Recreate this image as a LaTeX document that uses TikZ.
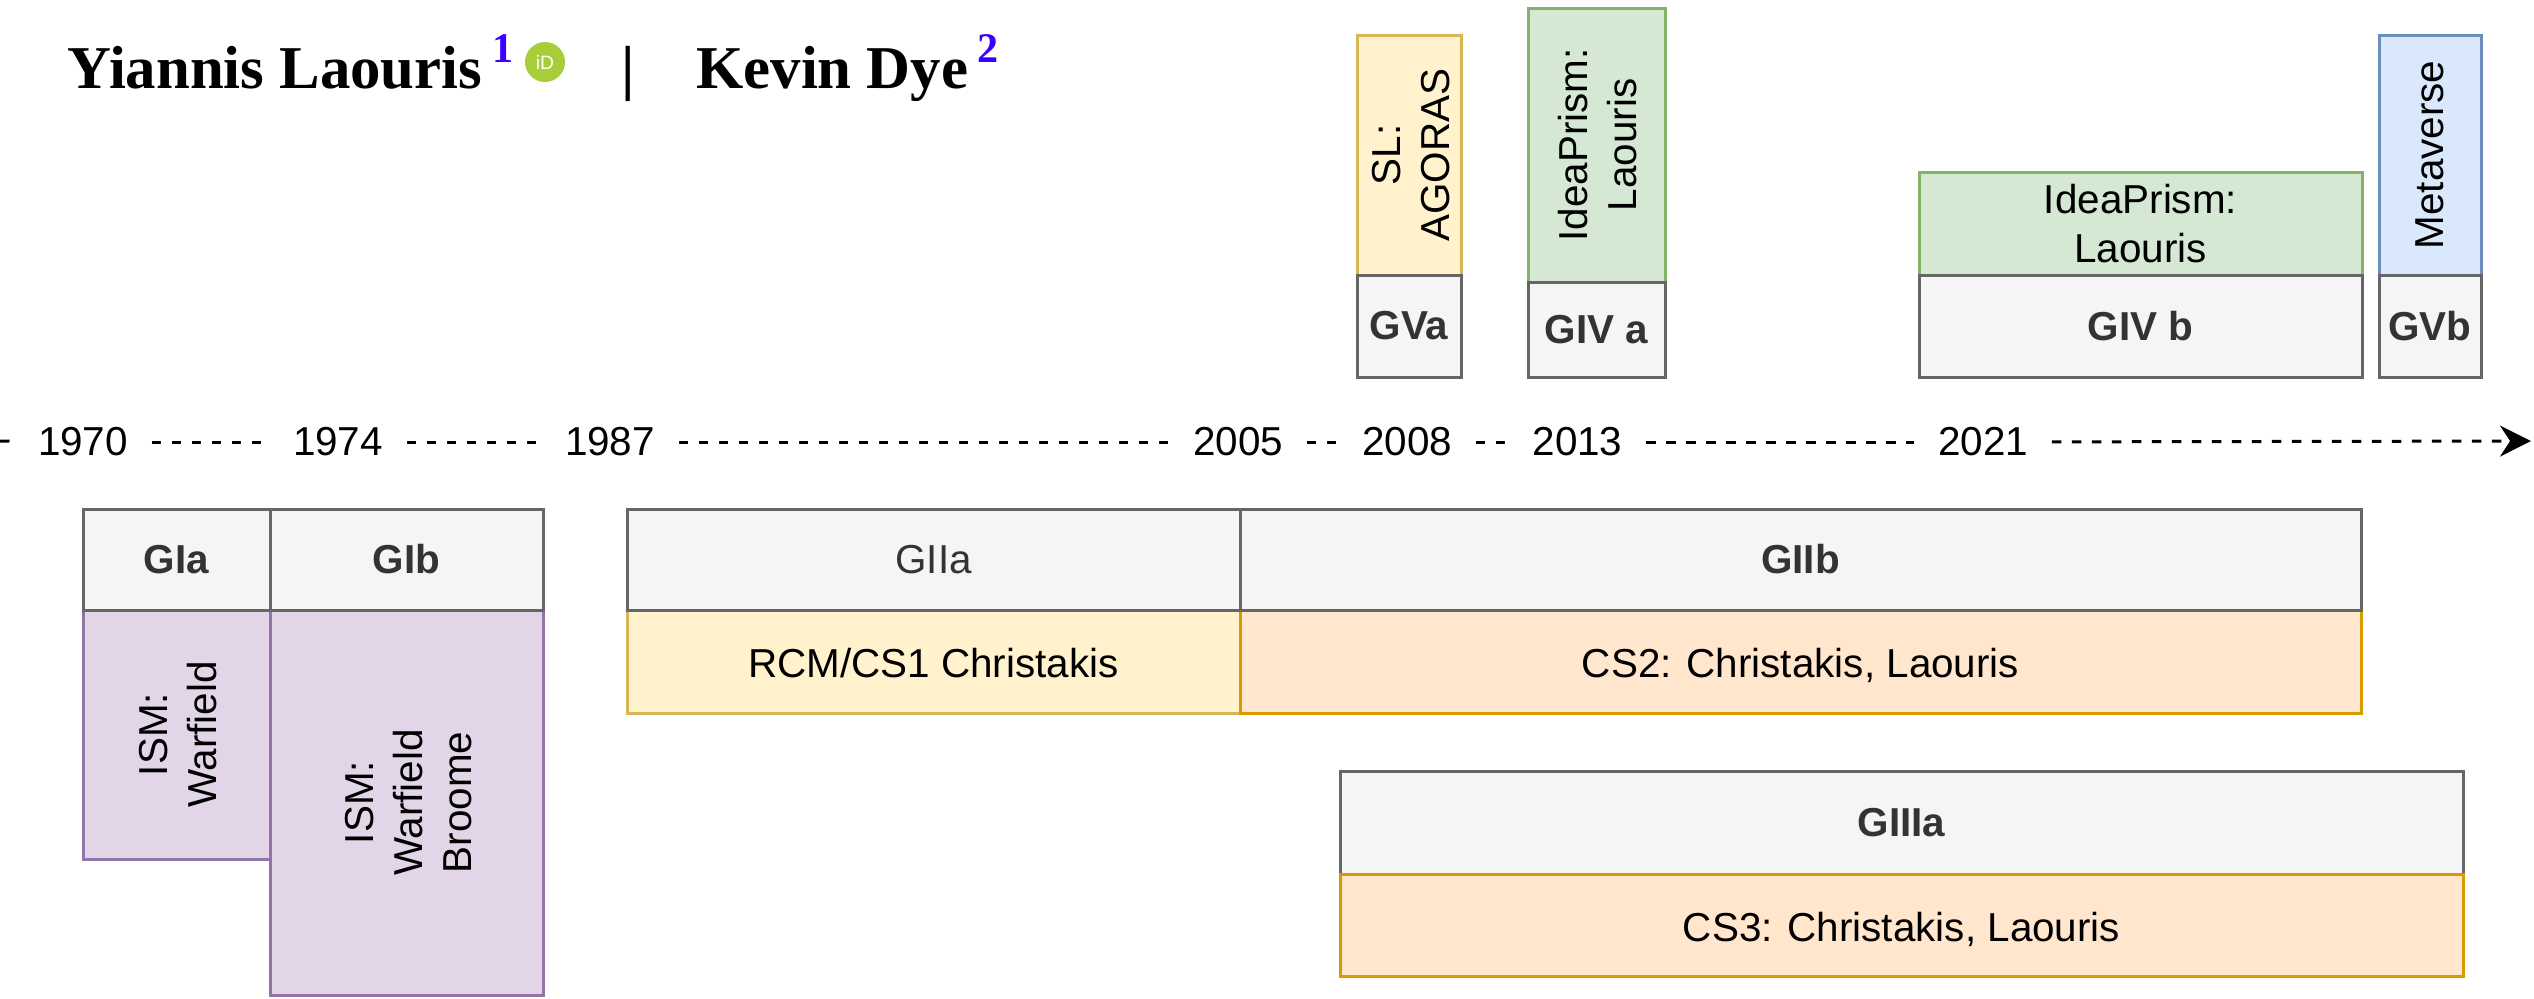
\documentclass[tikz,border=0pt]{standalone}
\usepackage{xcolor}
\usepackage{fontspec}
\usepackage{tikz}
\usetikzlibrary{arrows.meta}
\setmainfont{Liberation Sans}
\newfontfamily\namefont{Liberation Serif}
\definecolor{headfill}{HTML}{F5F5F5}
\definecolor{headline}{HTML}{666666}
\definecolor{headtext}{HTML}{333333}
\definecolor{ismfill}{HTML}{E1D5E7}
\definecolor{ismline}{HTML}{9673A6}
\definecolor{yellowfill}{HTML}{FFF2CC}
\definecolor{yellowline}{HTML}{D6B656}
\definecolor{orangefill}{HTML}{FFE6CC}
\definecolor{orangeline}{HTML}{D79B00}
\definecolor{greenfill}{HTML}{D5E8D4}
\definecolor{greenline}{HTML}{82B366}
\definecolor{bluefill}{HTML}{DAE8FC}
\definecolor{blueline}{HTML}{6C8EBF}
\definecolor{notenum}{HTML}{3A00FF}
\definecolor{orcid}{HTML}{A6CE39}
\newcommand{\sidetext}[1]{\makebox[0pt]{\hspace*{0.24cm}\rotatebox{90}{\begin{tabular}{@{}c@{}}#1\end{tabular}}}}
\tikzset{>={Stealth[length=0.62cm,width=0.62cm]}}
\tikzset{
  box/.style={draw,line width=0.06cm,inner sep=0pt,outer sep=0pt,anchor=north west,align=center,font=\fontsize{23}{28}\selectfont},
  head/.style={box,draw=headline,fill=headfill,text=headtext,font=\fontsize{23}{28}\selectfont\bfseries},
  ism/.style={box,draw=ismline,fill=ismfill},
  yellowbox/.style={box,draw=yellowline,fill=yellowfill},
  orangebox/.style={box,draw=orangeline,fill=orangefill},
  greenbox/.style={box,draw=greenline,fill=greenfill},
  bluebox/.style={box,draw=blueline,fill=bluefill},
  oneline/.style={text height=0.7cm,text depth=0.06cm},
  year/.style={inner xsep=0.47cm,inner ysep=2pt,font=\fontsize{23}{28}\selectfont},
  axis/.style={line width=0.06cm,dash pattern=on 0.19cm off 0.21cm},
  author/.style={anchor=base west,inner sep=0pt,font=\fontsize{34.6}{40}\selectfont\namefont\bfseries},
  note/.style={anchor=base west,inner sep=0pt,text=notenum,font=\fontsize{24}{28}\selectfont\namefont\bfseries}
}
\begin{document}
\begin{tikzpicture}
      \useasboundingbox (0,0) rectangle (50.68,-19.96);
      % authors
      \node[author] (yiannis) at (1.34,-1.76) {Yiannis Laouris};
      \node[note] (noteone) at (9.84,-1.24) {1};
      \node[circle,fill=orcid,text=white,minimum size=0.8cm,inner sep=0pt,font=\fontsize{11}{11}\selectfont] (orcidmark) at (10.9,-1.24) {iD};
      \node[author,anchor=base] (bar) at (12.56,-1.76) {|};
      \node[author] (kevin) at (13.92,-1.76) {Kevin Dye};
      \node[note] (notetwo) at (19.54,-1.24) {2};
      % time line
      \coordinate (axisstart) at (0,-8.82);
      \coordinate (axisend) at (50.62,-8.82);
      \node[year] (y1970) at (1.66,-8.84) {1970};
      \node[year] (y1974) at (6.76,-8.84) {1974};
      \node[year] (y1987) at (12.2,-8.84) {1987};
      \node[year] (y2005) at (24.76,-8.84) {2005};
      \node[year] (y2008) at (28.14,-8.84) {2008};
      \node[year] (y2013) at (31.55,-8.84) {2013};
      \node[year] (y2021) at (39.66,-8.84) {2021};
      \draw[axis] (axisstart) -- (y1970);
      \draw[axis] (y1970) -- (y1974);
      \draw[axis] (y1974) -- (y1987);
      \draw[axis] (y1987) -- (y2005);
      \draw[axis] (y2005) -- (y2008);
      \draw[axis] (y2008) -- (y2013);
      \draw[axis] (y2013) -- (y2021);
      \draw[axis,->] (y2021) -- (axisend);
      % above the line
      \node[yellowbox,minimum width=2.08cm,minimum height=4.8cm] (agoras) at (27.14,-0.7) {\sidetext{SL:\\AGORAS}};
      \node[head,minimum width=2.08cm,minimum height=2.04cm] (gva) at (27.14,-5.5) {GVa};
      \node[greenbox,minimum width=2.74cm,minimum height=5.48cm] (prisma) at (30.56,-0.16) {\sidetext{IdeaPrism:\\Laouris}};
      \node[head,minimum width=2.74cm,minimum height=1.9cm] (givaa) at (30.56,-5.64) {GIV a};
      \node[greenbox,minimum width=8.86cm,minimum height=2.06cm] (prismb) at (38.38,-3.44) {IdeaPrism:\\Laouris};
      \node[head,minimum width=8.86cm,minimum height=2.04cm] (givb) at (38.38,-5.5) {GIV b};
      \node[bluebox,minimum width=2.04cm,minimum height=4.8cm] (meta) at (47.58,-0.7) {\rotatebox{90}{Metaverse}};
      \node[head,minimum width=2.04cm,minimum height=2.04cm] (gvb) at (47.58,-5.5) {GVb};
      % below the line
      \node[ism,minimum width=3.74cm,minimum height=4.98cm] (ismone) at (1.66,-12.2) {\sidetext{ISM:\\Warfield}};
      \node[ism,minimum width=5.46cm,minimum height=7.7cm] (ismtwo) at (5.4,-12.2) {\sidetext{ISM:\\Warfield\\Broome}};
      \node[head,minimum width=3.74cm,minimum height=2.02cm] (gia) at (1.66,-10.18) {GIa};
      \node[head,minimum width=5.46cm,minimum height=2.02cm] (gib) at (5.4,-10.18) {GIb};
      \node[yellowbox,oneline,minimum width=12.26cm,minimum height=2.06cm] (rcm) at (12.54,-12.2) {RCM/CS1 Christakis};
      \node[head,font=\fontsize{23}{28}\selectfont,minimum width=12.26cm,minimum height=2.02cm] (giia) at (12.54,-10.18) {GIIa};
      \node[orangebox,oneline,minimum width=22.42cm,minimum height=2.06cm] (cstwo) at (24.8,-12.2) {CS2: Christakis, Laouris};
      \node[head,minimum width=22.42cm,minimum height=2.02cm] (giib) at (24.8,-10.18) {GIIb};
      \node[head,minimum width=22.46cm,minimum height=2.06cm] (giiia) at (26.8,-15.42) {GIIIa};
      \node[orangebox,oneline,minimum width=22.46cm,minimum height=2.04cm] (csthree) at (26.8,-17.48) {CS3: Christakis, Laouris};
    \end{tikzpicture}
\end{document}
